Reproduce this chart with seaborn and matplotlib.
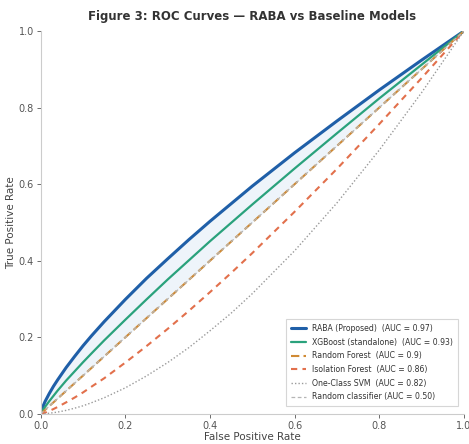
import numpy as np
import pandas as pd
import matplotlib
matplotlib.use("Agg")
import matplotlib.pyplot as plt
import seaborn as sns

# False positive rate grid shared by all curves
fpr = [0.0, 0.005, 0.01, 0.02, 0.03, 0.04, 0.06, 0.08, 0.1, 0.12, 0.15, 0.2, 0.25,
       0.3, 0.35, 0.4, 0.45, 0.5, 0.6, 0.7, 0.8, 0.9, 1.0]

# True positive rates
tpr_raba = [0.0, 0.019, 0.032, 0.053, 0.072, 0.089, 0.121, 0.150, 0.178, 0.204, 0.241, 0.299,
            0.354, 0.405, 0.455, 0.503, 0.549, 0.595, 0.682, 0.765, 0.846, 0.924, 1.0]
tpr_xgb = [0.0, 0.010, 0.018, 0.033, 0.047, 0.061, 0.087, 0.111, 0.135, 0.158, 0.192, 0.246,
           0.299, 0.351, 0.401, 0.451, 0.499, 0.547, 0.641, 0.733, 0.824, 0.912, 1.0]
tpr_rf = [0.0, 0.005, 0.01, 0.02, 0.03, 0.04, 0.06, 0.08, 0.1, 0.12, 0.15, 0.2, 0.25,
          0.3, 0.35, 0.4, 0.45, 0.5, 0.6, 0.7, 0.8, 0.9, 1.0]
tpr_iso = [0.0, 0.0013, 0.003, 0.0075, 0.0125, 0.018, 0.030, 0.0425, 0.056, 0.071, 0.093, 0.134,
           0.177, 0.222, 0.269, 0.318, 0.368, 0.420, 0.528, 0.640, 0.757, 0.877, 1.0]
tpr_svm = [0.0, 0.0001, 0.0005, 0.0015, 0.003, 0.0046, 0.009, 0.0147, 0.021, 0.029, 0.042, 0.068,
           0.099, 0.134, 0.173, 0.217, 0.263, 0.314, 0.426, 0.551, 0.689, 0.839, 1.0]
diag = [0.0, 1.0]

labels = [
    "RABA (Proposed)  (AUC = 0.97)",
    "XGBoost (standalone)  (AUC = 0.93)",
    "Random Forest  (AUC = 0.9)",
    "Isolation Forest  (AUC = 0.86)",
    "One-Class SVM  (AUC = 0.82)",
    "Random classifier (AUC = 0.50)",
]

sns.set_theme(style="ticks")
plt.rcParams["font.family"] = ["DejaVu Sans"]

fig = plt.figure(figsize=(4.69, 4.44), dpi=100)
ax = fig.add_axes([0.087, 0.068, 0.902, 0.862])

df = pd.DataFrame({"fpr": fpr, "raba": tpr_raba, "xgb": tpr_xgb,
                   "rf": tpr_rf, "iso": tpr_iso, "svm": tpr_svm})

# shaded gain of RABA over the diagonal
ax.fill_between(df["fpr"], df["raba"], df["rf"], color="#4a90c8", alpha=0.09, lw=0)

sns.lineplot(data=df, x="fpr", y="raba", ax=ax, color="#1f5fa8", lw=2.2, label=labels[0])
sns.lineplot(data=df, x="fpr", y="xgb", ax=ax, color="#2aa27c", lw=1.6, label=labels[1])
sns.lineplot(data=df, x="fpr", y="rf", ax=ax, color="#d08a34", lw=1.5,
             linestyle=(0, (4, 2)), label=labels[2])
sns.lineplot(data=df, x="fpr", y="iso", ax=ax, color="#e2704c", lw=1.5,
             linestyle=(0, (3, 2.5)), label=labels[3])
sns.lineplot(data=df, x="fpr", y="svm", ax=ax, color="#9a9a9a", lw=1.0,
             linestyle=(0, (1, 1.5)), label=labels[4])
sns.lineplot(x=diag, y=diag, ax=ax, color="#b5b5b5", lw=0.9,
             linestyle=(0, (3, 2)), label=labels[5])

ax.set_xlim(0, 1)
ax.set_ylim(0, 1)
ax.set_xticks([0, 0.2, 0.4, 0.6, 0.8, 1.0])
ax.set_yticks([0, 0.2, 0.4, 0.6, 0.8, 1.0])
ax.tick_params(labelsize=7, colors="#555555", length=3, width=0.6, pad=2)
for s in ["left", "bottom"]:
    ax.spines[s].set_color("#cccccc")
    ax.spines[s].set_linewidth(0.8)
sns.despine(ax=ax)

ax.set_xlabel("False Positive Rate", fontsize=7.5, color="#444444", labelpad=1)
ax.set_ylabel("True Positive Rate", fontsize=7.5, color="#444444", labelpad=2)
ax.set_title("Figure 3: ROC Curves \u2014 RABA vs Baseline Models", fontsize=8.5,
             fontweight="bold", color="#333333", pad=8)

leg = ax.legend(loc="lower right", fontsize=5.6, frameon=True, handlelength=2.0,
                borderpad=0.6, labelspacing=0.6, fancybox=False,
                bbox_to_anchor=(0.995, 0.01))
leg.get_frame().set_edgecolor("#cccccc")
leg.get_frame().set_linewidth(0.8)
for t in leg.get_texts():
    t.set_color("#333333")

fig.savefig("out.png", dpi=100)
